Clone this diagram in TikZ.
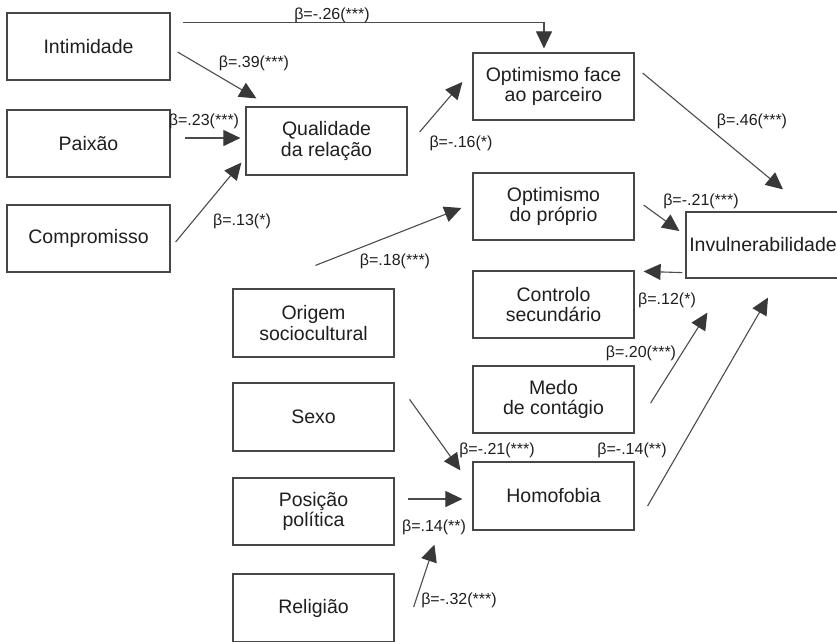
\documentclass[tikz,border=0pt]{standalone}
\usepackage{fontspec}
\setmainfont{Liberation Sans}
\usetikzlibrary{arrows.meta,calc}
\definecolor{boxcol}{gray}{0.28}
\definecolor{linecol}{gray}{0.3}
\definecolor{headcol}{gray}{0.22}
\definecolor{txtcol}{gray}{0.12}
\tikzset{
  box/.style={draw=boxcol, line width=1.2pt, minimum width=161pt, minimum height=67pt,
    align=center, text=txtcol, font=\fontsize{19.5}{20.5}\selectfont, inner sep=0pt},
  arr/.style={draw=linecol, line width=1.1pt,
    -{Triangle[length=17pt,width=16pt,color=headcol]}},
  lbl/.style={text=txtcol, font=\fontsize{16}{18}\selectfont, inner sep=0pt}
}
\begin{document}
\begin{tikzpicture}[x=1pt,y=-1pt]
\useasboundingbox (0,0) rectangle (837,641);
\fill[white] (0,0) rectangle (837,641);
\clip (0,0) rectangle (837,641);
% boxes
\node[box, minimum width=163pt] (intim) at (88.5,46.5) {Intimidade};
\node[box, minimum width=163pt] (paix) at (88.5,143.5) {Paixão};
\node[box, minimum width=163pt] (comp) at (88.5,238.5) {Compromisso};
\node[box, minimum height=68pt] (qual) at (326.5,141) {Qualidade\\da relação};
\node[box] (optf) at (553.5,86.5) {Optimismo face\\ao parceiro};
\node[box] (optp) at (553.5,206.5) {Optimismo\\do próprio};
\node[box, minimum width=154pt, minimum height=66pt] (invul) at (763,245) {Invulnerabilidade};
\node[box] (ctrl) at (553.5,304.5) {Controlo\\secundário};
\node[box] (medo) at (553.5,399.5) {Medo\\de contágio};
\node[box, minimum height=68pt] (homo) at (553.5,496) {Homofobia};
\node[box, minimum height=68pt] (orig) at (313.5,323) {Origem\\sociocultural};
\node[box, minimum height=68pt] (sexo) at (313.5,417) {Sexo};
\node[box] (posi) at (313.5,511.5) {Posição\\política};
\node[box, minimum height=68pt] (reli) at (313.5,608) {Religião};
% connectors
\draw[arr] ($(intim.north east)+(12,10)$) -| ($(optf.north)+(-9.5,-4)$);
\draw[arr] ($(intim.east)+(7,5.5)$) -- ($(qual.north west)+(11,-8)$);
\draw[arr] ($(paix.east)+(14,-5.5)$) -- ($(qual.west)+(-5,-3)$);
\draw[arr] ($(comp.east)+(5,3.5)$) -- ($(qual.south west)+(-4,-13)$);
\draw[arr] ($(qual.east)+(12,-9)$) -- ($(optf.west)+(-10,-4.5)$);
\draw[arr] ($(optf.east)+(8,-13.5)$) -- ($(invul.north)+(20,-22)$);
\coordinate (origfree) at ($(orig.north)+(2,-23)$);
\draw[arr] (origfree) -- ($(optp.west)+(-11,1.5)$);
\draw[arr] ($(optp.east)+(9,-1.5)$) -- ($(invul.west)+(-6,-14)$);
\draw[arr] ($(invul.south west)+(-3,-6)$) -- ($(ctrl.north east)+(9,1)$);
\draw[arr] ($(medo.east)+(16,3.5)$) -- ($(invul.south west)+(22,34)$);
\draw[arr] ($(homo.east)+(13,10)$) -- ($(invul.south)+(5,19)$);
\draw[arr] ($(sexo.north east)+(15,17)$) -- ($(homo.north west)+(-12,9)$);
\draw[arr] ($(posi.east)+(13,-12.5)$) -- ($(homo.west)+(-10,3)$);
\draw[arr] ($(reli.east)+(19,-1)$) -- ($(homo.south west)+(-38,14)$);
% labels
\node[lbl] (l1) at (332,15) {β=-.26(***)};
\node[lbl] (l2) at (254,63) {β=.39(***)};
\node[lbl] (l3) at (204,121) {β=.23(***)};
\node[lbl] (l4) at (242,221) {β=.13(*)};
\node[lbl] (l5) at (461,143) {β=-.16(*)};
\node[lbl] (l6) at (752,121) {β=.46(***)};
\node[lbl] (l7) at (395,261) {β=.18(***)};
\node[lbl] (l8) at (701,201) {β=-.21(***)};
\node[lbl] (l9) at (667,300) {β=.12(*)};
\node[lbl] (l10) at (641,353) {β=.20(***)};
\node[lbl] (l11) at (632,450) {β=-.14(**)};
\node[lbl] (l12) at (497,450) {β=-.21(***)};
\node[lbl] (l13) at (434,527) {β=.14(**)};
\node[lbl] (l14) at (459,600) {β=-.32(***)};
\end{tikzpicture}
\end{document}
